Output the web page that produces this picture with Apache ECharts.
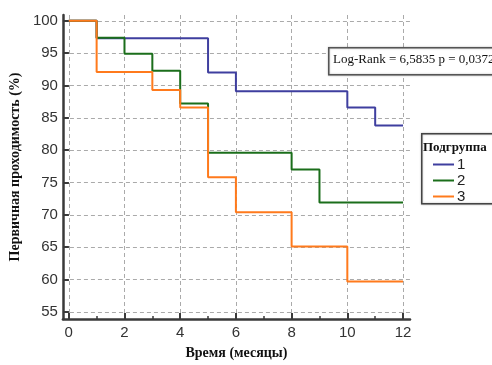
<!DOCTYPE html>
<html>
<head>
<meta charset="utf-8">
<script src="https://cdn.jsdelivr.net/npm/echarts@6/dist/echarts.min.js"></script>
<style>
  html, body { margin: 0; padding: 0; background: #fff; }
  #chart { width: 492px; height: 365px; }
</style>
</head>
<body>
<div id="chart"></div>
<script>
// месяцы (точки, где кривая меняется) и значения выживаемости, %
const months1 = [0, 1, 5, 6, 10, 11, 12]
const group1 = [100, 97.3, 92.0, 89.1, 86.6, 83.8, 83.8]
const months2 = [0, 1, 2, 3, 4, 5, 8, 9, 12]
const group2 = [100, 97.4, 94.9, 92.3, 87.2, 79.6, 77.0, 71.9, 71.9]
const months3 = [0, 1, 3, 4, 5, 6, 8, 10, 12]
const group3 = [100, 92.1, 89.3, 86.6, 75.8, 70.4, 65.1, 59.7, 59.7]

const groupNames = ['1', '2', '3']
const xTicks = [0, 2, 4, 6, 8, 10, 12]
const xMinorTicks = [1, 3, 5, 7, 9, 11]
const yTicks = [55, 60, 65, 70, 75, 80, 85, 90, 95, 100]
const statText = 'Log-Rank = 6,5835 p = 0,0372'

const colors = ['#3f3f9f', '#1b6e1b', '#ff7a1c']

const pairs = (xs, ys) => xs.map((x, i) => [x, ys[i]])

const myChart = echarts.init(document.getElementById('chart'))

const axisColor = '#3a3a3a'
const gridLine = { show: true, lineStyle: { color: '#aaaaaa', type: [4, 3], width: 1 } }

const option = {
  animation: false,
  grid: { left: 61, right: 82, top: 15, bottom: 41, containLabel: false },
  xAxis: [
    {
      type: 'value',
      min: -0.21,
      max: 12.25,
      name: 'Время (месяцы)',
      nameLocation: 'middle',
      nameGap: 27,
      nameTextStyle: { fontFamily: 'Liberation Serif', fontWeight: 'bold', fontSize: 14, color: '#111' },
      axisLine: { show: true, onZero: false, lineStyle: { color: axisColor, width: 2.5 } },
      axisTick: { show: true, inside: true, length: 6, customValues: xTicks, lineStyle: { color: axisColor, width: 2 } },
      axisLabel: { customValues: xTicks, fontFamily: 'Liberation Sans', fontSize: 15, color: '#333', margin: 6 },
      splitLine: gridLine,
    },
    {
      type: 'value',
      position: 'bottom',
      min: -0.21,
      max: 12.25,
      axisLine: { show: false },
      axisTick: { show: true, inside: true, length: 3, customValues: xMinorTicks, lineStyle: { color: axisColor, width: 1.5 } },
      axisLabel: { show: false },
      splitLine: { show: false },
    },
  ],
  yAxis: {
    type: 'value',
    min: 53.9,
    max: 100.9,
    name: 'Первичная проходимость (%)',
    nameLocation: 'middle',
    nameGap: 36,
    nameRotate: 90,
    nameTextStyle: { fontFamily: 'Liberation Serif', fontWeight: 'bold', fontSize: 14, color: '#111' },
    axisLine: { show: true, onZero: false, lineStyle: { color: axisColor, width: 2.5 } },
    axisTick: { show: true, inside: true, length: 6, customValues: yTicks, lineStyle: { color: axisColor, width: 2 } },
    axisLabel: { customValues: yTicks, fontFamily: 'Liberation Sans', fontSize: 15, color: '#333', margin: 5 },
    splitLine: gridLine,
  },
  legend: {
    orient: 'vertical',
    left: 428,
    top: 152,
    z: 60,
    itemWidth: 21,
    itemHeight: 2,
    itemGap: 1,
    icon: 'rect',
    textStyle: { fontFamily: 'Liberation Sans', fontSize: 15, color: '#222', padding: [0, 0, 0, -2] },
    data: groupNames,
  },
  graphic: [
    {
      type: 'rect',
      left: 421,
      top: 133,
      shape: { width: 80, height: 70 },
      style: { fill: '#fff', stroke: '#444', lineWidth: 1.5, shadowBlur: 2, shadowColor: 'rgba(0,0,0,0.3)' },
      z: 50,
    },
    {
      type: 'text',
      left: 423,
      top: 141,
      style: { text: 'Подгруппа', font: 'bold 13px "Liberation Serif"', fill: '#111' },
      z: 51,
    },
    {
      type: 'rect',
      left: 328,
      top: 47,
      shape: { width: 170, height: 27 },
      style: { fill: '#fff', stroke: '#555', lineWidth: 1.5, shadowBlur: 2, shadowColor: 'rgba(0,0,0,0.3)' },
      z: 50,
    },
    {
      type: 'text',
      left: 333,
      top: 53,
      style: { text: statText, font: '13px "Liberation Serif"', fill: '#111' },
      z: 51,
    },
  ],
  series: [
    { name: groupNames[0], data: pairs(months1, group1) },
    { name: groupNames[1], data: pairs(months2, group2) },
    { name: groupNames[2], data: pairs(months3, group3) },
  ].map((s, i) => ({
    ...s,
    type: 'line',
    step: 'end',
    showSymbol: false,
    color: colors[i],
    lineStyle: { width: 2, color: colors[i] },
    z: 2 + i,
  })),
}

myChart.setOption(option)
</script>
</body>
</html>
